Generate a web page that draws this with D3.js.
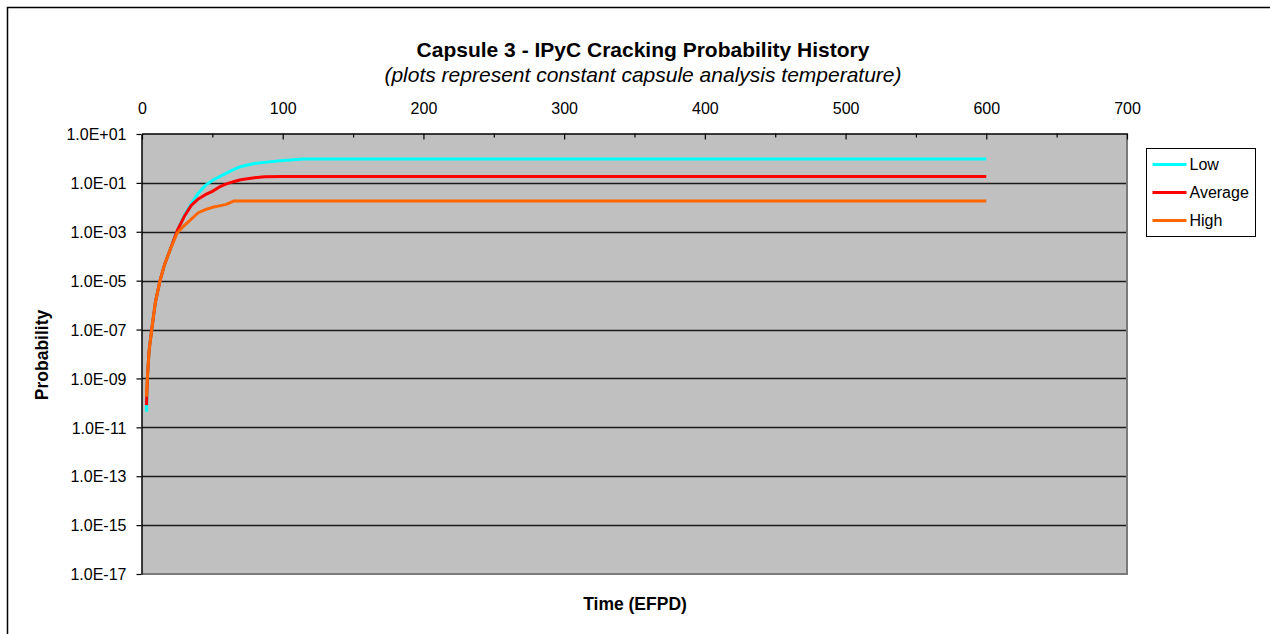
<!DOCTYPE html>
<html>
<head>
<meta charset="utf-8">
<script src="https://cdn.jsdelivr.net/npm/d3@7/dist/d3.min.js"></script>
<style>
  html, body { margin: 0; padding: 0; background: #fff; }
  svg { display: block; font-family: "Liberation Sans", Arial, sans-serif; }
</style>
</head>
<body>
<svg id="chart" width="1270" height="634"></svg>
<script>
// Time in effective full power days (EFPD)
const time = [3.2, 3.8, 5, 6.9, 9.5, 12.8, 16, 19.9, 25, 30, 35, 40, 45, 50, 55, 60, 65, 70, 75, 80, 87, 100, 115, 600];

// IPyC cracking probability for each capsule analysis temperature
const lowProb = [4.4e-11, 1.0e-9, 1.3e-8, 1.0e-7, 1.3e-6, 1.0e-5, 4.5e-5, 1.8e-4, 1.1e-3, 4.5e-3, 0.014, 0.038, 0.079, 0.126, 0.178, 0.25, 0.35, 0.46, 0.54, 0.62, 0.69, 0.83, 0.95, 0.95];
const averageProb = [8.1e-11, 1.0e-9, 1.3e-8, 1.0e-7, 1.3e-6, 1.0e-5, 4.5e-5, 1.8e-4, 1.1e-3, 4.2e-3, 0.012, 0.022, 0.033, 0.045, 0.068, 0.091, 0.112, 0.135, 0.148, 0.162, 0.178, 0.182, 0.182, 0.182];
const highProb = [1.8e-10, 1.0e-9, 1.3e-8, 1.0e-7, 1.3e-6, 1.0e-5, 4.5e-5, 1.8e-4, 8.9e-4, 1.8e-3, 3.3e-3, 6.0e-3, 8.1e-3, 0.010, 0.0115, 0.0132, 0.018, 0.018, 0.018, 0.018, 0.018, 0.018, 0.018, 0.018];

const seriesNames = ["Low", "Average", "High"];
const seriesColors = ["#00FFFF", "#FF0000", "#FF6600"];

const xTicks = [0, 100, 200, 300, 400, 500, 600, 700];
const xMinorTicks = [50, 150, 250, 350, 450, 550, 650];
const yTicks = [1e1, 1e-1, 1e-3, 1e-5, 1e-7, 1e-9, 1e-11, 1e-13, 1e-15, 1e-17];

const titleText = "Capsule 3 - IPyC Cracking Probability History";
const subtitleText = "(plots represent constant capsule analysis temperature)";
const xTitle = "Time (EFPD)";
const yTitle = "Probability";

const svg = d3.select("#chart");
const plot = { left: 142, top: 134, right: 1127, bottom: 574 };

const x = d3.scaleLinear().domain([0, 700]).range([plot.left, plot.right]);
const y = d3.scaleLog().domain([1e-17, 1e1]).range([plot.bottom, plot.top]);

// outer chart frame
svg.append("rect")
  .attr("x", 7.5).attr("y", 7.5)
  .attr("width", 1300).attr("height", 700)
  .attr("fill", "#fff").attr("stroke", "#000").attr("stroke-width", 1.5);

// plot background
svg.append("rect")
  .attr("x", plot.left).attr("y", plot.top)
  .attr("width", plot.right - plot.left).attr("height", plot.bottom - plot.top)
  .attr("fill", "#C0C0C0");

// horizontal gridlines
svg.append("g").selectAll("line")
  .data(yTicks.filter(d => d !== 1e1 && d !== 1e-17))
  .join("line")
  .attr("x1", plot.left).attr("x2", plot.right)
  .attr("y1", d => Math.round(y(d)) + 0.5).attr("y2", d => Math.round(y(d)) + 0.5)
  .attr("stroke", "#1a1a1a").attr("stroke-width", 1.3);

// right and bottom plot border
svg.append("path")
  .attr("d", `M${plot.right},${plot.top}V${plot.bottom}H${plot.left}`)
  .attr("fill", "none").attr("stroke", "#7a7a7a").attr("stroke-width", 2);

// series lines
const line = d3.line().x(d => x(d[0])).y(d => y(d[1]));
const seriesData = [lowProb, averageProb, highProb];
svg.append("g").selectAll("path")
  .data(seriesData)
  .join("path")
  .attr("d", vals => line(time.map((t, i) => [t, vals[i]])))
  .attr("fill", "none")
  .attr("stroke", (d, i) => seriesColors[i])
  .attr("stroke-width", 3)
  .attr("stroke-linejoin", "round");

// top axis (time)
const xAxis = d3.axisTop(x).tickValues(xTicks).tickSize(-6).tickSizeOuter(0).tickFormat(d3.format("d"));
const gx = svg.append("g").attr("transform", `translate(0,${plot.top - 0.5})`).call(xAxis);
gx.select(".domain").attr("stroke", "#000").attr("stroke-width", 1.5);
gx.selectAll(".tick line").attr("stroke", "#000").attr("stroke-width", 1.2);
gx.selectAll(".tick text").attr("y", -20).attr("dy", 0)
  .attr("font-size", 16).attr("fill", "#000");

const xMinor = d3.axisTop(x).tickValues(xMinorTicks).tickSize(-4).tickSizeOuter(0).tickFormat("");
const gxm = svg.append("g").attr("transform", `translate(0,${plot.top - 0.5})`).call(xMinor);
gxm.select(".domain").remove();
gxm.selectAll(".tick line").attr("stroke", "#000").attr("stroke-width", 1.2);

// left axis (probability)
const sci = d => {
  const e = Math.round(Math.log10(d));
  return "1.0E" + (e < 0 ? "-" : "+") + String(Math.abs(e)).padStart(2, "0");
};
const yAxis = d3.axisLeft(y).tickValues(yTicks).tickSize(5).tickPadding(10).tickSizeOuter(0).tickFormat(sci);
const gy = svg.append("g").attr("transform", `translate(${plot.left - 0.5},0)`).call(yAxis);
gy.select(".domain").attr("stroke", "#000").attr("stroke-width", 1.5);
gy.selectAll(".tick line").attr("stroke", "#000").attr("stroke-width", 1.2);
gy.selectAll(".tick text").attr("font-size", 16).attr("fill", "#000").attr("dy", "0.36em");

// titles
svg.append("text")
  .attr("x", 643).attr("y", 57)
  .attr("text-anchor", "middle").attr("font-size", 21).attr("font-weight", "bold")
  .text(titleText);
svg.append("text")
  .attr("x", 643).attr("y", 82)
  .attr("text-anchor", "middle").attr("font-size", 21).attr("font-style", "italic")
  .text(subtitleText);
svg.append("text")
  .attr("x", 635).attr("y", 610)
  .attr("text-anchor", "middle").attr("font-size", 17.5).attr("font-weight", "bold")
  .text(xTitle);
svg.append("text")
  .attr("transform", "translate(48,355) rotate(-90)")
  .attr("text-anchor", "middle").attr("font-size", 17.5).attr("font-weight", "bold")
  .text(yTitle);

// legend
const legend = svg.append("g").attr("transform", "translate(1146.5,148.5)");
legend.append("rect")
  .attr("width", 109).attr("height", 88)
  .attr("fill", "#fff").attr("stroke", "#000").attr("stroke-width", 1);
const items = legend.selectAll("g.item")
  .data(seriesNames)
  .join("g").attr("class", "item")
  .attr("transform", (d, i) => `translate(0,${16 + i * 28})`);
items.append("line")
  .attr("x1", 6).attr("x2", 40)
  .attr("stroke", (d, i) => seriesColors[i]).attr("stroke-width", 3);
items.append("text")
  .attr("x", 43).attr("dy", "0.36em")
  .attr("font-size", 16)
  .text(d => d);
</script>
</body>
</html>
